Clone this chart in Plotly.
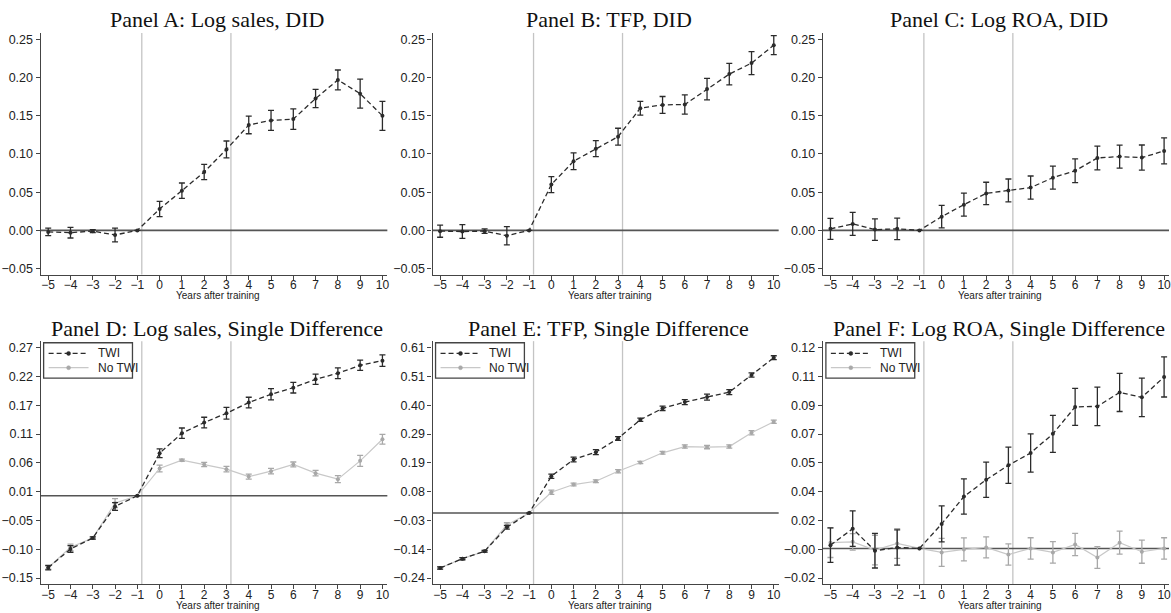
import numpy as np
import plotly.graph_objects as go

years = list(range(-5, 11))
year_ticks = list(range(-5, 11))

# Panel A: Log sales, DID
a_est = [-0.002, -0.003, -0.001, -0.006, 0.0, 0.028, 0.052, 0.0765, 0.106, 0.138, 0.144, 0.1457, 0.1726, 0.197, 0.179, 0.150]
a_err = [0.005, 0.007, 0.002, 0.009, 0.0, 0.010, 0.010, 0.010, 0.011, 0.0115, 0.013, 0.0135, 0.012, 0.013, 0.019, 0.019]
# Panel B: TFP, DID
b_est = [-0.001, -0.0015, -0.001, -0.007, 0.0, 0.060, 0.0905, 0.107, 0.1227, 0.160, 0.1643, 0.1648, 0.185, 0.2046, 0.219, 0.2425]
b_err = [0.008, 0.009, 0.003, 0.012, 0.0, 0.0105, 0.011, 0.0105, 0.011, 0.009, 0.011, 0.0125, 0.014, 0.014, 0.015, 0.0125]
# Panel C: Log ROA, DID
c_est = [0.002, 0.0085, 0.001, 0.002, 0.0, 0.018, 0.0337, 0.0484, 0.0523, 0.056, 0.069, 0.078, 0.0948, 0.0966, 0.0953, 0.104]
c_err = [0.0137, 0.015, 0.014, 0.014, 0.0, 0.0147, 0.015, 0.0146, 0.015, 0.0152, 0.015, 0.0156, 0.0156, 0.015, 0.0165, 0.017]

# Panel D: Log sales, Single Difference
d_twi = [-0.131, -0.097, -0.077, -0.0195, 0.0, 0.0776, 0.114, 0.1334, 0.1504, 0.1699, 0.185, 0.197, 0.2123, 0.2233, 0.2378, 0.2463]
d_twi_err = [0.004, 0.006, 0.002, 0.007, 0.0, 0.008, 0.0095, 0.0097, 0.0106, 0.0097, 0.0103, 0.0097, 0.0094, 0.0097, 0.0094, 0.0106]
d_no = [-0.131, -0.094, -0.077, -0.0134, 0.0, 0.0497, 0.0649, 0.057, 0.0485, 0.035, 0.0448, 0.057, 0.0412, 0.0303, 0.0636, 0.103]
d_no_err = [0.003, 0.006, 0.002, 0.008, 0.0, 0.006, 0.002, 0.004, 0.005, 0.0045, 0.005, 0.0045, 0.005, 0.0065, 0.010, 0.009]
# Panel E: TFP, Single Difference
e_twi = [-0.203, -0.1685, -0.141, -0.0527, 0.0, 0.1357, 0.1973, 0.2244, 0.275, 0.344, 0.386, 0.409, 0.4277, 0.446, 0.509, 0.573]
e_twi_err = [0.004, 0.004, 0.003, 0.007, 0.0, 0.008, 0.009, 0.009, 0.007, 0.006, 0.008, 0.009, 0.011, 0.009, 0.008, 0.007]
e_no = [-0.203, -0.1685, -0.141, -0.044, 0.0, 0.0766, 0.105, 0.117, 0.154, 0.1862, 0.222, 0.245, 0.243, 0.245, 0.296, 0.3365]
e_no_err = [0.004, 0.004, 0.003, 0.008, 0.0, 0.008, 0.005, 0.005, 0.006, 0.004, 0.005, 0.006, 0.006, 0.006, 0.008, 0.006]
# Panel F: Log ROA, Single Difference
f_twi = [0.002, 0.012, -0.0014, 0.0006, 0.0, 0.0149, 0.0315, 0.0417, 0.0505, 0.058, 0.0696, 0.086, 0.0863, 0.0948, 0.0918, 0.1042]
f_twi_err = [0.0105, 0.0108, 0.0105, 0.0107, 0.0, 0.0109, 0.0107, 0.0107, 0.011, 0.0116, 0.0113, 0.0112, 0.0117, 0.0116, 0.0117, 0.0122]
f_no = [0.0035, 0.004, -0.001, 0.003, 0.0, -0.0024, -0.0006, 0.0006, -0.0037, 0.0, -0.0024, 0.0024, -0.0055, 0.0035, -0.002, 0.0]
f_no_err = [0.009, 0.005, 0.009, 0.009, 0.0, 0.0085, 0.007, 0.0064, 0.0065, 0.0065, 0.0065, 0.0068, 0.0066, 0.007, 0.007, 0.0065]

titles = ["Panel A: Log sales, DID", "Panel B: TFP, DID", "Panel C: Log ROA, DID",
          "Panel D: Log sales, Single Difference", "Panel E: TFP, Single Difference",
          "Panel F: Log ROA, Single Difference"]
series_names = ["TWI", "No TWI"]
x_title = "Years after training"

d_ticks = ["−0.15", "−0.10", "−0.05", "0.01", "0.06", "0.11", "0.17", "0.22", "0.27"]
e_ticks = ["−0.24", "−0.14", "−0.03", "0.08", "0.19", "0.29", "0.40", "0.51", "0.61"]
f_ticks = ["−0.02", "−0.00", "0.02", "0.04", "0.05", "0.07", "0.09", "0.11", "0.12"]
abc_ticks = ["−0.05", "0.00", "0.05", "0.10", "0.15", "0.20", "0.25"]
abc_vals = [-0.05, 0.0, 0.05, 0.10, 0.15, 0.20, 0.25]

W, H = 1171, 613
DARK = "#2b2b2b"
AX = "#444444"
LIGHT = "#a8a8a8"
LIGHTLINE = "#c8c8c8"
VLINE = "#c4c4c4"
SANS = "Liberation Sans, Arial, sans-serif"
SERIF = "Liberation Serif, Times New Roman, serif"
TWI_DASH = "5px,3px"

xcols = [(40.7, 388.0), (433.3, 780.0), (824.3, 1171.0)]
yrows = [(33.0, 275.0), (341.7, 585.0)]

fig = go.Figure()

def fx(px):
    return px / W

def fy(py):
    return (H - py) / H

panels = [
    dict(twi=a_est, twi_err=a_err, no=None),
    dict(twi=b_est, twi_err=b_err, no=None),
    dict(twi=c_est, twi_err=c_err, no=None),
    dict(twi=d_twi, twi_err=d_twi_err, no=d_no, no_err=d_no_err),
    dict(twi=e_twi, twi_err=e_twi_err, no=e_no, no_err=e_no_err),
    dict(twi=f_twi, twi_err=f_twi_err, no=f_no, no_err=f_no_err),
]

ycfg = [
    dict(lo=-0.05, hi=0.25, tickvals=abc_vals, ticktext=abc_ticks),
    dict(lo=-0.05, hi=0.25, tickvals=abc_vals, ticktext=abc_ticks),
    dict(lo=-0.05, hi=0.25, tickvals=abc_vals, ticktext=abc_ticks),
    dict(lo=-0.15, hi=0.27, ticktext=d_ticks),
    dict(lo=-0.24, hi=0.61, ticktext=e_ticks),
    dict(lo=-0.018, hi=0.122, ticktext=f_ticks),
]

for i, p in enumerate(panels):
    r, c = divmod(i, 3)
    n = i + 1
    xa = "x" if n == 1 else f"x{n}"
    ya = "y" if n == 1 else f"y{n}"
    xl = "xaxis" if n == 1 else f"xaxis{n}"
    yl = "yaxis" if n == 1 else f"yaxis{n}"
    top, bot = yrows[r]
    left, right = xcols[c]
    cfg = ycfg[i]
    lo, hi = cfg["lo"], cfg["hi"]
    tv = cfg.get("tickvals", list(np.linspace(lo, hi, 9)))
    span_px = (bot - 6.0) - (top + 6.5)
    upp = (hi - lo) / span_px
    rng = [lo - 6.0 * upp, hi + 6.5 * upp]
    fig.layout[xl] = dict(domain=[fx(left), fx(right)], range=[-5.34, 10.22], anchor=ya,
                          tickvals=year_ticks,
                          ticktext=[("−" + str(-v)) if v < 0 else str(v) for v in year_ticks],
                          ticks="outside", ticklen=4, tickcolor=AX, tickwidth=1,
                          ticklabelstandoff=-5, ticklabeloverflow="allow",
                          showline=True, linecolor=AX, linewidth=1.2, showgrid=False, zeroline=False,
                          tickfont=dict(family=SANS, size=12, color="#222"))
    fig.layout[yl] = dict(domain=[fy(bot), fy(top)], range=rng, anchor=xa,
                          tickvals=tv, ticktext=cfg["ticktext"],
                          ticks="outside", ticklen=4, tickcolor=AX, tickwidth=1,
                          showline=True, linecolor=AX, linewidth=1.2, showgrid=False, zeroline=False,
                          tickfont=dict(family=SANS, size=12.5, color="#222"))
    for xv in (-0.8, 3.2):
        fig.add_shape(type="line", xref=xa, yref=f"{ya} domain", x0=xv, x1=xv, y0=0, y1=1,
                      line=dict(color=VLINE, width=1.3), layer="below")
    fig.add_shape(type="line", xref=f"{xa} domain", yref=ya, x0=0, x1=1, y0=0, y1=0,
                  line=dict(color="#555555", width=1.6), layer="below")
    if p["no"] is not None:
        fig.add_trace(go.Scatter(x=years, y=p["no"], xaxis=xa, yaxis=ya, mode="lines+markers",
                                 name=series_names[1], showlegend=False,
                                 line=dict(color=LIGHTLINE, width=1.2),
                                 marker=dict(color=LIGHT, size=4),
                                 error_y=dict(type="data", array=p["no_err"], visible=True,
                                              color=LIGHT, thickness=1.3, width=3)))
    fig.add_trace(go.Scatter(x=years, y=p["twi"], xaxis=xa, yaxis=ya, mode="lines+markers",
                             name=series_names[0], showlegend=False,
                             line=dict(color=DARK, width=1.3, dash=TWI_DASH),
                             marker=dict(color=DARK, size=4),
                             error_y=dict(type="data", array=p["twi_err"], visible=True,
                                          color=DARK, thickness=1.3, width=3)))
    fig.add_annotation(text=titles[i], xref="paper", yref="paper",
                       x=fx((left + right) / 2 + 3), y=fy(top - 13),
                       xanchor="center", yanchor="middle", showarrow=False,
                       font=dict(family=SERIF, size=22, color="#111"))
    fig.add_annotation(text=x_title, xref="paper", yref="paper",
                       x=fx((left + right) / 2 + 4), y=fy(bot + 21),
                       xanchor="center", yanchor="middle", showarrow=False,
                       font=dict(family=SANS, size=10, color="#222"))

    if p["no"] is not None:
        bx0 = left + 3
        bx1 = bx0 + 89
        by0, by1 = 343.3, 378.7
        fig.add_shape(type="rect", xref="paper", yref="paper",
                      x0=fx(bx0), x1=fx(bx1), y0=fy(by1), y1=fy(by0),
                      line=dict(color="#444", width=1.3), fillcolor="white", layer="above")
        rows = [(354.0, DARK, DARK, TWI_DASH, series_names[0]),
                (368.3, LIGHTLINE, LIGHT, "solid", series_names[1])]
        for yy, lc, mc, dash, label in rows:
            fig.add_shape(type="line", xref="paper", yref="paper",
                          x0=fx(bx0 + 5), x1=fx(bx0 + 45), y0=fy(yy), y1=fy(yy),
                          line=dict(color=lc, width=1.3, dash=dash), layer="above")
            fig.add_shape(type="circle", xref="paper", yref="paper",
                          x0=fx(bx0 + 23), x1=fx(bx0 + 27), y0=fy(yy + 2), y1=fy(yy - 2),
                          line=dict(color=mc, width=0.5), fillcolor=mc, layer="above")
            fig.add_annotation(text=label, xref="paper", yref="paper",
                               x=fx(bx0 + 52), y=fy(yy), xanchor="left", yanchor="middle",
                               showarrow=False, font=dict(family=SANS, size=12, color="#222"))

fig.update_layout(width=W, height=H, margin=dict(l=0, r=0, t=0, b=0),
                  plot_bgcolor="white", paper_bgcolor="white", showlegend=False)

fig.write_html("out.html", config={"displayModeBar": False},
               post_script="document.body.style.margin='0';document.body.style.overflow='hidden';")
